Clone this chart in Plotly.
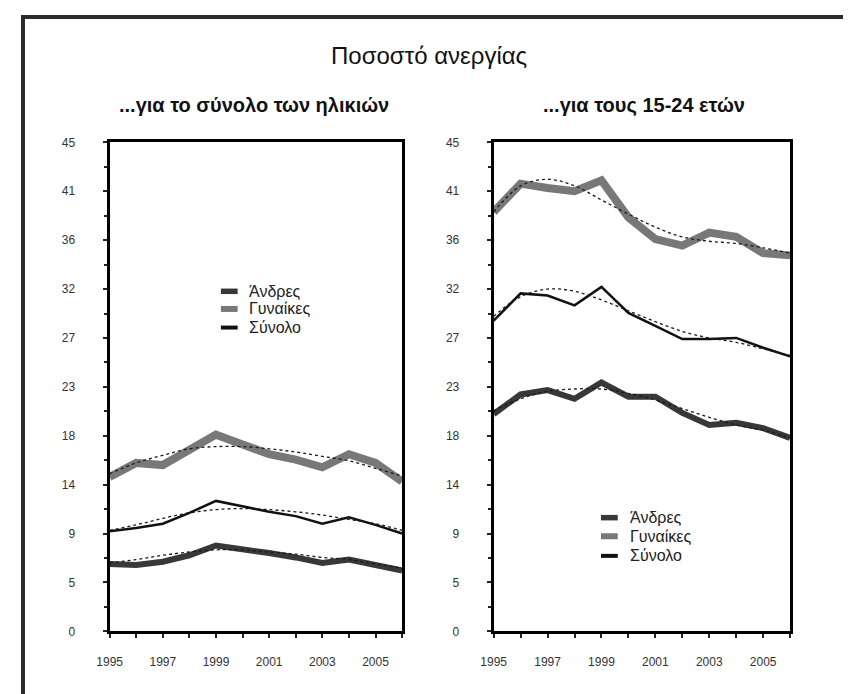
import plotly.graph_objects as go

years = list(range(1995, 2007))

# Left panel: all ages
men_all = [6.2, 6.1, 6.4, 7.0, 7.9, 7.6, 7.2, 6.8, 6.3, 6.6, 6.1, 5.6]
women_all = [14.2, 15.5, 15.3, 16.7, 18.1, 17.2, 16.3, 15.8, 15.1, 16.3, 15.5, 13.8]
total_all = [9.2, 9.5, 9.9, 10.9, 12.0, 11.5, 11.0, 10.6, 9.9, 10.5, 9.8, 9.0]
men_all_trend = [6.3, 6.6, 7.0, 7.3, 7.5, 7.5, 7.3, 7.1, 6.8, 6.6, 6.2, 5.8]
women_all_trend = [14.5, 15.5, 16.2, 16.8, 17.0, 17.0, 16.8, 16.5, 16.1, 15.7, 15.0, 14.3]
total_all_trend = [9.3, 9.8, 10.4, 10.9, 11.2, 11.3, 11.2, 11.0, 10.7, 10.3, 9.9, 9.3]

# Right panel: ages 15-24
men_young = [20.0, 21.8, 22.2, 21.4, 22.9, 21.6, 21.6, 20.1, 19.0, 19.2, 18.7, 17.8]
women_young = [38.6, 41.2, 40.8, 40.5, 41.5, 38.1, 36.1, 35.5, 36.7, 36.3, 34.8, 34.6]
total_young = [28.6, 31.1, 30.9, 30.0, 31.7, 29.3, 28.1, 26.9, 26.9, 27.0, 26.1, 25.3]
men_young_trend = [20.3, 21.4, 22.1, 22.3, 22.3, 21.9, 21.3, 20.5, 19.7, 19.0, 18.5, 17.8]
women_young_trend = [38.6, 41.0, 41.6, 41.0, 39.7, 38.4, 37.2, 36.3, 35.9, 35.7, 35.3, 34.8]
total_young_trend = [29.0, 30.8, 31.5, 31.3, 30.5, 29.5, 28.5, 27.6, 27.0, 26.6, 26.0, 25.4]

series_names = ["Άνδρες", "Γυναίκες", "Σύνολο"]
ytick_vals = [0, 4.5, 9, 13.5, 18, 22.5, 27, 31.5, 36, 40.5, 45]
ytick_text = ["0", "5", "9", "14", "18", "23", "27", "32", "36", "41", "45"]
xtick_vals = [1995, 1997, 1999, 2001, 2003, 2005]

main_title = "Ποσοστό ανεργίας"
panel_titles = ["...για το σύνολο των ηλικιών", "...για τους 15-24 ετών"]

FONT = "Liberation Sans, Arial, sans-serif"
W, H = 851, 694

colors = ["#383838", "#787878", "#111111"]
widths = [6, 8, 2.5]
legend_widths = [5.5, 6, 4]


def px(x):
    return x / W


def py(y):
    return 1 - y / H


fig = go.Figure()

panels = [
    ("x", "y", [men_all, women_all, total_all],
     [men_all_trend, women_all_trend, total_all_trend]),
    ("x2", "y2", [men_young, women_young, total_young],
     [men_young_trend, women_young_trend, total_young_trend]),
]

for xa, ya, data, trends in panels:
    for name, vals, c, w in zip(series_names, data, colors, widths):
        fig.add_trace(go.Scatter(x=years, y=vals, mode="lines", name=name,
                                 line=dict(color=c, width=w), xaxis=xa, yaxis=ya,
                                 showlegend=False))
    for vals in trends:
        fig.add_trace(go.Scatter(x=years, y=vals, mode="lines",
                                 line=dict(color="#1a1a1a", width=1.3, dash="dot", shape="spline"),
                                 xaxis=xa, yaxis=ya, showlegend=False, hoverinfo="skip"))

# plot box positions (figure pixels)
ytop, ybot = 130, 629

common_x = dict(range=[1995, 2006], tickmode="array", tickvals=xtick_vals,
                ticks="outside", ticklen=4, tickwidth=1.5, tickcolor="#222",
                showline=True, linecolor="#000", linewidth=3, mirror=True,
                showgrid=False, zeroline=False, ticklabelstandoff=13,
                tickfont=dict(family=FONT, size=12, color="#333"),
                minor=dict(dtick=1, tick0=1995, ticks="outside", ticklen=4,
                           tickcolor="#222", showgrid=False))
common_y = dict(range=[0, 45], tickmode="array", tickvals=ytick_vals, ticktext=ytick_text,
                ticks="outside", ticklen=4, tickwidth=1.5, tickcolor="#222",
                showline=True, linecolor="#000", linewidth=3, mirror=True,
                showgrid=False, zeroline=False, ticklabelstandoff=25,
                tickfont=dict(family=FONT, size=12, color="#333"),
                minor=dict(dtick=2.25, tick0=0, ticks="outside", ticklen=3,
                           tickcolor="#222", showgrid=False))

shapes = [dict(type="rect", xref="paper", yref="paper",
               x0=px(2), x1=px(870), y0=py(710), y1=py(2),
               line=dict(color="#2a2a2a", width=4), layer="below")]
annotations = [
    dict(text=main_title, x=px(414), y=py(41), xref="paper", yref="paper",
         showarrow=False, xanchor="center", yanchor="middle",
         font=dict(family=FONT, size=24, color="#111")),
    dict(text="<b>" + panel_titles[0] + "</b>", x=px(237), y=py(92),
         xref="paper", yref="paper", showarrow=False, xanchor="center", yanchor="middle",
         font=dict(family=FONT, size=20, color="#111")),
    dict(text="<b>" + panel_titles[1] + "</b>", x=px(633), y=py(92),
         xref="paper", yref="paper", showarrow=False, xanchor="center", yanchor="middle",
         font=dict(family=FONT, size=20, color="#111")),
]

# manual legends (symbol x-range, text x, row y positions)
legend_specs = [
    (203, 220, 230, [282, 300, 319]),
    (589, 606, 616, [513, 532, 552]),
]
for sx0, sx1, tx, rows in legend_specs:
    for name, c, lw, ry in zip(series_names, colors, legend_widths, rows):
        shapes.append(dict(type="line", xref="paper", yref="paper",
                           x0=px(sx0), x1=px(sx1), y0=py(ry), y1=py(ry),
                           line=dict(color=c, width=lw)))
        annotations.append(dict(text=name, x=px(tx), y=py(ry), xref="paper", yref="paper",
                                showarrow=False, xanchor="left", yanchor="middle",
                                font=dict(family=FONT, size=16, color="#222")))

fig.update_layout(
    width=W, height=H,
    margin=dict(l=0, r=0, t=0, b=0),
    paper_bgcolor="white", plot_bgcolor="white",
    font=dict(family=FONT, color="#222"),
    showlegend=False,
    xaxis=dict(domain=[px(90), px(387)], anchor="y", **common_x),
    yaxis=dict(domain=[py(ybot), py(ytop)], anchor="x", **common_y),
    xaxis2=dict(domain=[px(480), px(781)], anchor="y2", **common_x),
    yaxis2=dict(domain=[py(ybot), py(ytop)], anchor="x2", **common_y),
    hovermode=False,
    shapes=shapes,
    annotations=annotations,
)

fig.write_html("out.html")
